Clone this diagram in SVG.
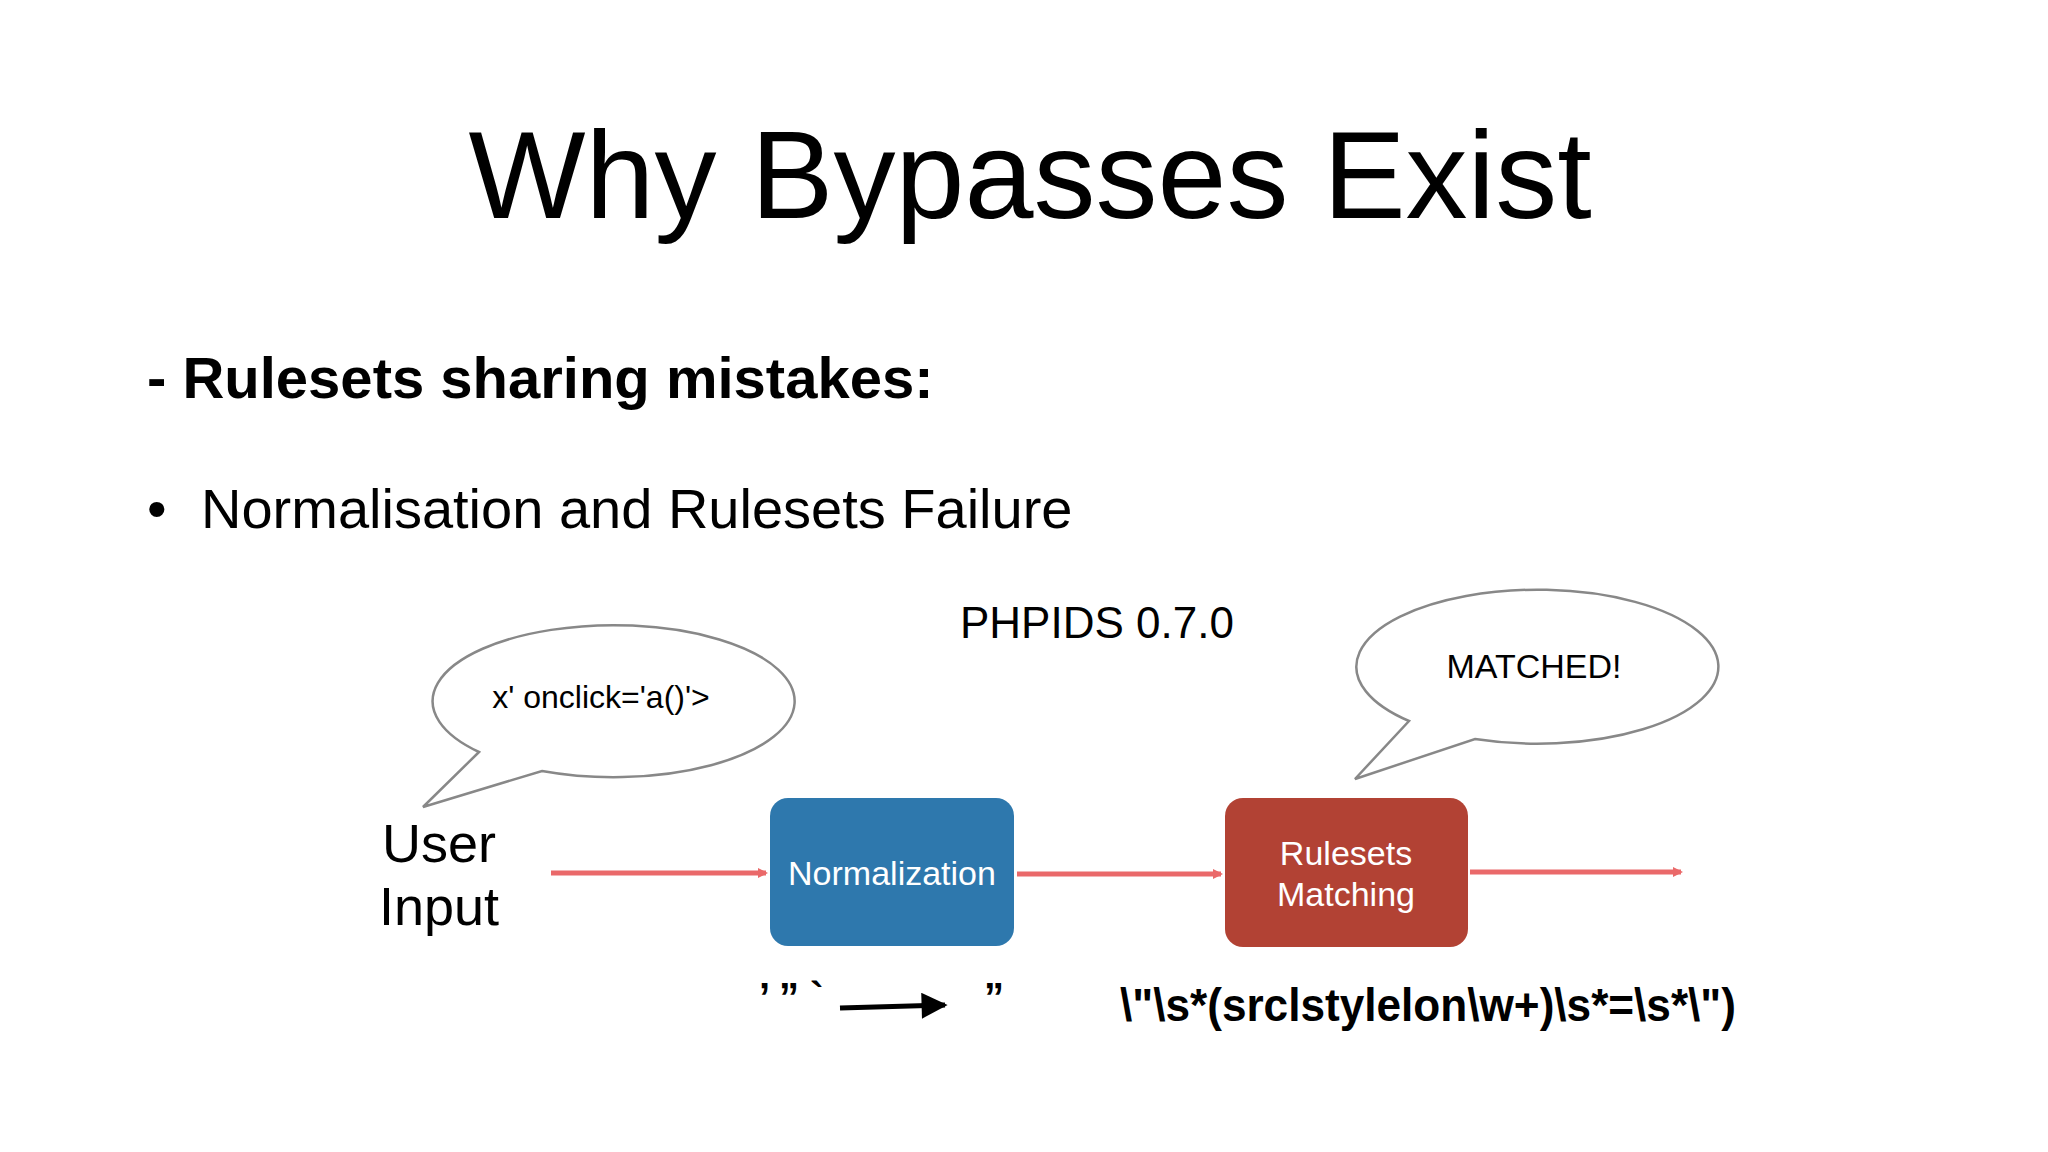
<svg xmlns="http://www.w3.org/2000/svg" width="2048" height="1152" viewBox="0 0 2048 1152">
<defs>
<style>
text{font-family:"Liberation Sans",Arial,sans-serif;fill:#000}
.bub{fill:#fff;stroke:#888;stroke-width:2.5}
.con{stroke:#e8595a;stroke-width:5;fill:none;opacity:.9}
.box{font-size:34px;fill:#fff;text-anchor:middle}
</style>
<marker id="ar" markerWidth="10" markerHeight="10" refX="8" refY="5" orient="auto" markerUnits="userSpaceOnUse" viewBox="0 0 10 10"><path d="M0,0L10,5L0,10z" fill="#e8595a"/></marker>
<marker id="ab" viewBox="0 0 10 10" refX="9" refY="5" markerWidth="28" markerHeight="26" orient="auto" markerUnits="userSpaceOnUse"><path d="M0,0L10,5L0,10z" fill="#000"/></marker>
</defs>
<rect width="2048" height="1152" fill="#fff"/>
<text x="1030" y="218" font-size="124" text-anchor="middle" font-weight="300">Why Bypasses Exist</text>
<text x="147" y="398" font-size="58" font-weight="bold">- Rulesets sharing mistakes:</text>
<text x="147" y="528" font-size="56">•</text>
<text x="201" y="528" font-size="56">Normalisation and Rulesets Failure</text>
<text x="960" y="638" font-size="44">PHPIDS 0.7.0</text>
<g id="bubble-left">
<path class="bub" d="M479,752 A181,76 0 1 1 542,771 L423,807 Z"/>
<text x="601" y="708" font-size="32" text-anchor="middle">x' onclick='a()'&gt;</text>
</g>
<g id="bubble-right">
<path class="bub" d="M1409,721 A181,77 0 1 1 1475,739 L1355,779 Z"/>
<text x="1534" y="678" font-size="34" text-anchor="middle">MATCHED!</text>
</g>
<g id="user-input">
<text x="439" y="862" font-size="54" text-anchor="middle">User</text>
<text x="439" y="925" font-size="54" text-anchor="middle">Input</text>
</g>
<g id="connectors">
<line class="con" x1="551" y1="873" x2="766" y2="873" marker-end="url(#ar)" style="stroke-width:5"/>
<line class="con" x1="1017" y1="874" x2="1221" y2="874" marker-end="url(#ar)"/>
<line class="con" x1="1470" y1="872" x2="1681" y2="872" marker-end="url(#ar)"/>
<line x1="840" y1="1008" x2="945" y2="1005" stroke="#000" stroke-width="5" marker-end="url(#ab)"/>
</g>
<g id="normalization">
<rect x="770" y="798" width="244" height="148" rx="18" fill="#2e78ad"/>
<text class="box" x="892" y="885">Normalization</text>
</g>
<g id="rulesets">
<rect x="1225" y="798" width="243" height="149" rx="18" fill="#b24234"/>
<text class="box" x="1346" y="865">Rulesets</text>
<text class="box" x="1346" y="906">Matching</text>
</g>
<text x="759" y="1011" font-size="40" font-weight="bold">’ ” `</text>
<text x="984" y="1011" font-size="40" font-weight="bold">”</text>
<text x="1120" y="1021" font-size="46" font-weight="bold" textLength="616" lengthAdjust="spacingAndGlyphs">\"\s*(srclstylelon\w+)\s*=\s*\")</text>
</svg>
